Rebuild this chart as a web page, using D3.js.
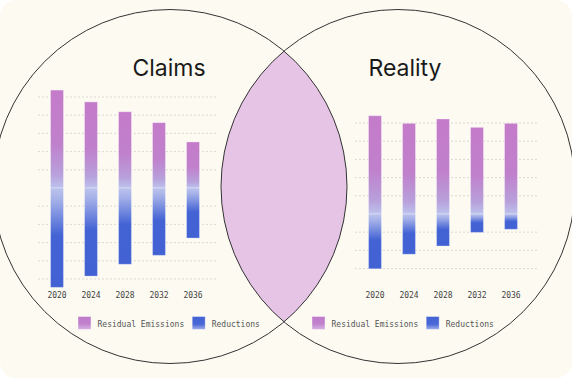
<!DOCTYPE html>
<html>
<head>
<meta charset="utf-8">
<script src="https://cdn.jsdelivr.net/npm/d3@7"></script>
<style>
  html, body { margin: 0; padding: 0; background: #ffffff; }
  svg { display: block; }
</style>
</head>
<body>
<svg id="chart" width="572" height="378"></svg>
<script>
const years = ["2020", "2024", "2028", "2032", "2036"];
const claimsResidual = [53.8, 47.3, 41.9, 35.9, 25.3];
const claimsReductions = [-54.6, -48.4, -41.9, -37.0, -27.5];
const realityResidual = [54.0, 49.8, 52.2, 47.6, 49.8];
const realityReductions = [-30.1, -22.1, -17.6, -10.1, -8.4];
const claimsGrid = [-50, -40, -30, -20, -10, 10, 20, 30, 40, 50];
const realityGrid = [-30, -20, -10, 10, 20, 30, 40, 50];
const titles = ["Claims", "Reality"];
const legendLabels = ["Residual Emissions", "Reductions"];

const W = 572, H = 378;
const svg = d3.select("#chart");
const defs = svg.append("defs");

// card
svg.append("rect").attr("width", W).attr("height", H).attr("rx", 16).attr("fill", "#fcfaf1");

// gradients
function grad(id, stops) {
  const g = defs.append("linearGradient").attr("id", id)
    .attr("x1", 0).attr("y1", 0).attr("x2", 0).attr("y2", 1);
  stops.forEach(s => g.append("stop").attr("offset", s[0]).attr("stop-color", s[1]));
}
grad("gResidual", [[0, "#c47bca"], [0.55, "#c080cc"], [0.86, "#b8a0db"], [1, "#bcc2ec"]]);
grad("gReduction", [[0, "#bcc3ec"], [0.12, "#a4b0e8"], [0.48, "#4363d5"], [1, "#4262d4"]]);
grad("gLegResidual", [[0, "#c07bcb"], [0.55, "#c281cd"], [1, "#d4b3e2"]]);
grad("gLegReduction", [[0, "#4262d4"], [0.6, "#4a68d6"], [1, "#a3b1ea"]]);

// venn circles
const R = 177, cy = 186.5, cxL = 170, cxR = 398;
defs.append("clipPath").attr("id", "clipLeft")
  .append("circle").attr("cx", cxL).attr("cy", cy).attr("r", R);
svg.append("circle").attr("cx", cxR).attr("cy", cy).attr("r", R)
  .attr("fill", "#e5c4e6").attr("clip-path", "url(#clipLeft)");
[cxL, cxR].forEach(cx => {
  svg.append("circle").attr("cx", cx).attr("cy", cy).attr("r", R)
    .attr("fill", "none").attr("stroke", "#333").attr("stroke-width", 1);
});

function drawChart(cfg) {
  const g = svg.append("g");
  const x = d3.scaleBand().domain(years).range(cfg.xRange)
    .paddingInner(0.62).paddingOuter(0.31);
  const y = d3.scaleLinear().domain(cfg.yDomain).range(cfg.yRange);

  // gridlines
  g.selectAll(".grid").data(cfg.grid).join("line")
    .attr("x1", cfg.gridX[0]).attr("x2", cfg.gridX[1])
    .attr("y1", d => y(d)).attr("y2", d => y(d))
    .attr("stroke", "#dcd9d2").attr("stroke-width", 1)
    .attr("stroke-dasharray", "2,2");

  const rows = years.map((yr, i) => ({ yr, res: cfg.residual[i], red: cfg.reductions[i] }));

  g.selectAll(".res").data(rows).join("rect")
    .attr("x", d => x(d.yr)).attr("width", x.bandwidth())
    .attr("y", d => y(d.res)).attr("height", d => y(0) - y(d.res))
    .attr("fill", "url(#gResidual)")
    .attr("stroke", "#ffffff").attr("stroke-opacity", 0.3).attr("stroke-width", 1);

  g.selectAll(".red").data(rows).join("rect")
    .attr("x", d => x(d.yr)).attr("width", x.bandwidth())
    .attr("y", y(0)).attr("height", d => y(d.red) - y(0))
    .attr("fill", "url(#gReduction)")
    .attr("stroke", "#ffffff").attr("stroke-opacity", 0.3).attr("stroke-width", 1);

  // axis labels
  const ax = g.append("g").attr("transform", `translate(0,${cfg.axisY})`)
    .call(d3.axisBottom(x).tickSize(0).tickPadding(0));
  ax.select(".domain").remove();
  ax.selectAll("text")
    .attr("font-family", "'DejaVu Sans Mono', monospace")
    .attr("font-size", 8).attr("fill", "#444");

  // title
  g.append("text").attr("x", cfg.titleX).attr("y", 76)
    .attr("text-anchor", "middle")
    .attr("font-family", "Inter, 'Noto Sans', sans-serif")
    .attr("font-size", 23).attr("fill", "#1a1a1a")
    .text(cfg.title);

  // legend
  const lg = g.append("g").attr("transform", `translate(${cfg.legendX},316.5)`);
  const charW = 4.816;
  let off = 0;
  legendLabels.forEach((lab, i) => {
    lg.append("rect").attr("x", off).attr("y", 0).attr("width", 13).attr("height", 13)
      .attr("fill", i === 0 ? "url(#gLegResidual)" : "url(#gLegReduction)")
      .attr("stroke", "#ffffff").attr("stroke-opacity", 0.4);
    lg.append("text").attr("x", off + 19.5).attr("y", 10)
      .attr("font-family", "'DejaVu Sans Mono', monospace")
      .attr("font-size", 8).attr("fill", "#555")
      .text(lab);
    off += 19.5 + lab.length * charW + 8;
  });
}

drawChart({
  title: titles[0], titleX: 169,
  residual: claimsResidual, reductions: claimsReductions,
  grid: claimsGrid, gridX: [38, 218],
  xRange: [40, 210],
  yDomain: [-60, 60], yRange: [188 + 109.2, 188 - 109.2],
  axisY: 292.8, legendX: 78
});

drawChart({
  title: titles[1], titleX: 405,
  residual: realityResidual, reductions: realityReductions,
  grid: realityGrid, gridX: [355, 537],
  xRange: [358, 528],
  yDomain: [-40, 60], yRange: [214 + 72.8, 214 - 109.2],
  axisY: 292.8, legendX: 312
});
</script>
</body>
</html>
